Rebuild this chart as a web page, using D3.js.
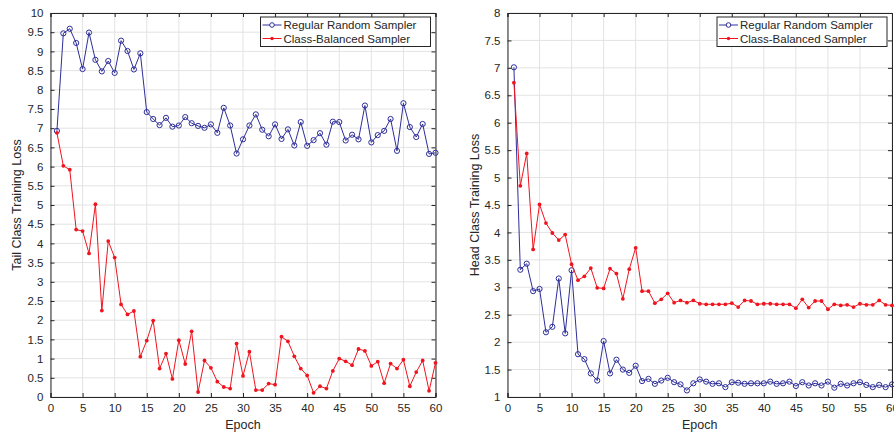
<!DOCTYPE html>
<html>
<head>
<meta charset="utf-8">
<script src="https://cdn.jsdelivr.net/npm/d3@7"></script>
<style>
  body { margin: 0; background: #fff; }
  svg { display: block; font-family: "Liberation Sans", Arial, sans-serif; }
</style>
</head>
<body>
<div id="chart"></div>
<script>
// epochs 1..60
var epochs = d3.range(1, 61);

// left panel: tail class loss
var tailRegular = [6.93, 9.47, 9.59, 9.22, 8.54, 9.49, 8.78, 8.48, 8.75, 8.44,
                   9.28, 9.01, 8.53, 8.95, 7.42, 7.24, 7.08, 7.27, 7.04, 7.07,
                   7.29, 7.13, 7.06, 7.01, 7.10, 6.88, 7.53, 7.07, 6.34, 6.71,
                   7.07, 7.36, 6.96, 6.79, 7.10, 6.72, 6.97, 6.55, 7.16, 6.54,
                   6.69, 6.87, 6.57, 7.17, 7.16, 6.68, 6.83, 6.71, 7.59, 6.63,
                   6.82, 6.93, 7.24, 6.41, 7.65, 7.03, 6.77, 7.11, 6.33, 6.36];
var tailBalanced = [6.88, 6.02, 5.92, 4.36, 4.32, 3.74, 5.02, 2.25, 4.06, 3.63,
                    2.41, 2.15, 2.24, 1.05, 1.47, 1.99, 0.74, 1.13, 0.47, 1.48,
                    0.86, 1.71, 0.13, 0.95, 0.76, 0.40, 0.26, 0.22, 1.39, 0.55,
                    1.18, 0.18, 0.18, 0.35, 0.32, 1.57, 1.45, 1.06, 0.74, 0.56,
                    0.11, 0.28, 0.22, 0.68, 1.00, 0.93, 0.83, 1.25, 1.20, 0.81,
                    0.92, 0.36, 0.87, 0.74, 0.97, 0.28, 0.65, 0.95, 0.16, 0.89];

// right panel: head class loss
var headRegular = [7.01, 3.32, 3.43, 2.93, 2.97, 2.18, 2.28, 3.16, 2.16, 3.31,
                   1.78, 1.69, 1.43, 1.30, 2.02, 1.43, 1.68, 1.50, 1.44, 1.57,
                   1.29, 1.33, 1.24, 1.30, 1.35, 1.27, 1.23, 1.12, 1.25, 1.32,
                   1.28, 1.24, 1.25, 1.18, 1.27, 1.26, 1.24, 1.25, 1.25, 1.25,
                   1.28, 1.24, 1.25, 1.28, 1.20, 1.27, 1.21, 1.25, 1.21, 1.28,
                   1.17, 1.24, 1.21, 1.25, 1.27, 1.22, 1.18, 1.22, 1.18, 1.23];
var headBalanced = [6.73, 4.85, 5.44, 3.69, 4.51, 4.17, 3.99, 3.86, 3.96, 3.42,
                    3.13, 3.20, 3.35, 2.99, 2.98, 3.34, 3.25, 2.79, 3.33, 3.72,
                    2.93, 2.93, 2.71, 2.78, 2.89, 2.72, 2.76, 2.72, 2.76, 2.70,
                    2.69, 2.69, 2.69, 2.69, 2.71, 2.64, 2.76, 2.75, 2.69, 2.70,
                    2.70, 2.69, 2.69, 2.69, 2.62, 2.78, 2.63, 2.75, 2.75, 2.60,
                    2.69, 2.67, 2.68, 2.64, 2.70, 2.68, 2.68, 2.76, 2.68, 2.67];

var seriesNames = ["Regular Random Sampler", "Class-Balanced Sampler"];
var xTicks = [0, 5, 10, 15, 20, 25, 30, 35, 40, 45, 50, 55, 60];
var tailTicks = d3.range(0, 10.01, 0.5);
var headTicks = d3.range(1, 8.01, 0.5);

var blue = "#2e2e9a", red = "#f0141e", axisCol = "#262626", gridCol = "#e3e3e3";

var svg = d3.select("#chart")
  .append("svg")
    .attr("width", 894)
    .attr("height", 433);

function panel(opt) {
  var x = d3.scaleLinear().domain([0, 60]).range([opt.left, opt.right]);
  var y = d3.scaleLinear().domain(opt.yDomain).range([397, 13]);
  var g = svg.append("g");

  // grid
  g.append("g").selectAll("line").data(xTicks).enter().append("line")
    .attr("x1", function(d) { return x(d); }).attr("x2", function(d) { return x(d); })
    .attr("y1", y.range()[0]).attr("y2", y.range()[1])
    .attr("stroke", gridCol).attr("stroke-width", 1);
  g.append("g").selectAll("line").data(opt.yTicks).enter().append("line")
    .attr("y1", function(d) { return y(d); }).attr("y2", function(d) { return y(d); })
    .attr("x1", opt.left).attr("x2", opt.right)
    .attr("stroke", gridCol).attr("stroke-width", 1);

  // axes, ticks pointing in (matlab box style)
  var fmt = function(d) { return d3.format("")(+d.toFixed(1)); };
  var bottom = g.append("g").attr("transform", "translate(0,397)")
    .call(d3.axisBottom(x).tickValues(xTicks).tickSize(-4).tickPadding(7).tickFormat(fmt));
  var top = g.append("g").attr("transform", "translate(0,13)")
    .call(d3.axisTop(x).tickValues(xTicks).tickSize(-4).tickFormat(""));
  var left = g.append("g").attr("transform", "translate(" + opt.left + ",0)")
    .call(d3.axisLeft(y).tickValues(opt.yTicks).tickSize(-4).tickPadding(7).tickFormat(fmt));
  var right = g.append("g").attr("transform", "translate(" + opt.right + ",0)")
    .call(d3.axisRight(y).tickValues(opt.yTicks).tickSize(-4).tickFormat(""));
  [bottom, top, left, right].forEach(function(a) {
    a.select(".domain").attr("stroke", axisCol).attr("stroke-width", 1);
    a.selectAll(".tick line").attr("stroke", axisCol);
    a.selectAll("text").attr("fill", axisCol).style("font-size", "11.5px")
      .style("font-family", "'Liberation Sans', Arial, sans-serif");
  });
  bottom.selectAll(".tick line").filter(function(d) { return false; });

  // lines
  var line = d3.line()
    .x(function(d, i) { return x(epochs[i]); })
    .y(function(d) { return y(d); });

  g.append("path").datum(opt.regular)
    .attr("fill", "none").attr("stroke", blue).attr("stroke-width", 1)
    .attr("d", line);
  g.append("g").selectAll("circle").data(opt.regular).enter().append("circle")
    .attr("cx", function(d, i) { return x(epochs[i]); })
    .attr("cy", function(d) { return y(d); })
    .attr("r", 2.6)
    .attr("fill", "none").attr("stroke", blue).attr("stroke-width", 1);

  g.append("path").datum(opt.balanced)
    .attr("fill", "none").attr("stroke", red).attr("stroke-width", 1)
    .attr("d", line);
  g.append("g").selectAll("circle").data(opt.balanced).enter().append("circle")
    .attr("cx", function(d, i) { return x(epochs[i]); })
    .attr("cy", function(d) { return y(d); })
    .attr("r", 1.9)
    .attr("fill", red);

  // axis labels
  g.append("text")
    .attr("x", (opt.left + opt.right) / 2).attr("y", 429)
    .attr("text-anchor", "middle").attr("fill", axisCol)
    .style("font-size", "12.5px")
    .text("Epoch");
  g.append("text")
    .attr("transform", "translate(" + opt.labelX + "," + 205 + ") rotate(-90)")
    .attr("text-anchor", "middle").attr("fill", axisCol)
    .style("font-size", "12.5px")
    .text(opt.ylabel);

  // legend
  var lx = opt.right - 175, ly = 17;
  var leg = g.append("g");
  leg.append("rect")
    .attr("x", lx).attr("y", ly).attr("width", 170).attr("height", 29.5)
    .attr("fill", "#fff").attr("stroke", axisCol).attr("stroke-width", 1);
  var rows = [
    {name: seriesNames[0], col: blue, mark: "circle"},
    {name: seriesNames[1], col: red, mark: "dot"}
  ];
  rows.forEach(function(r, i) {
    var cy = ly + 8 + i * 13.5;
    leg.append("line")
      .attr("x1", lx + 2).attr("x2", lx + 21).attr("y1", cy).attr("y2", cy)
      .attr("stroke", r.col).attr("stroke-width", 1);
    if (r.mark === "circle") {
      leg.append("circle").attr("cx", lx + 11.5).attr("cy", cy).attr("r", 2.3)
        .attr("fill", "#fff").attr("stroke", r.col);
    } else {
      leg.append("circle").attr("cx", lx + 11.5).attr("cy", cy).attr("r", 1.7)
        .attr("fill", r.col);
    }
    leg.append("text")
      .attr("x", lx + 23).attr("y", cy + 4)
      .attr("fill", axisCol).style("font-size", "11.5px")
      .text(r.name);
  });
}

panel({left: 50.5, right: 435.5, yDomain: [0, 10], yTicks: tailTicks,
       regular: tailRegular, balanced: tailBalanced,
       ylabel: "Tail Class Training Loss", labelX: 21});
panel({left: 507.5, right: 892, yDomain: [1, 8], yTicks: headTicks,
       regular: headRegular, balanced: headBalanced,
       ylabel: "Head Class Training Loss", labelX: 479});
</script>
</body>
</html>
